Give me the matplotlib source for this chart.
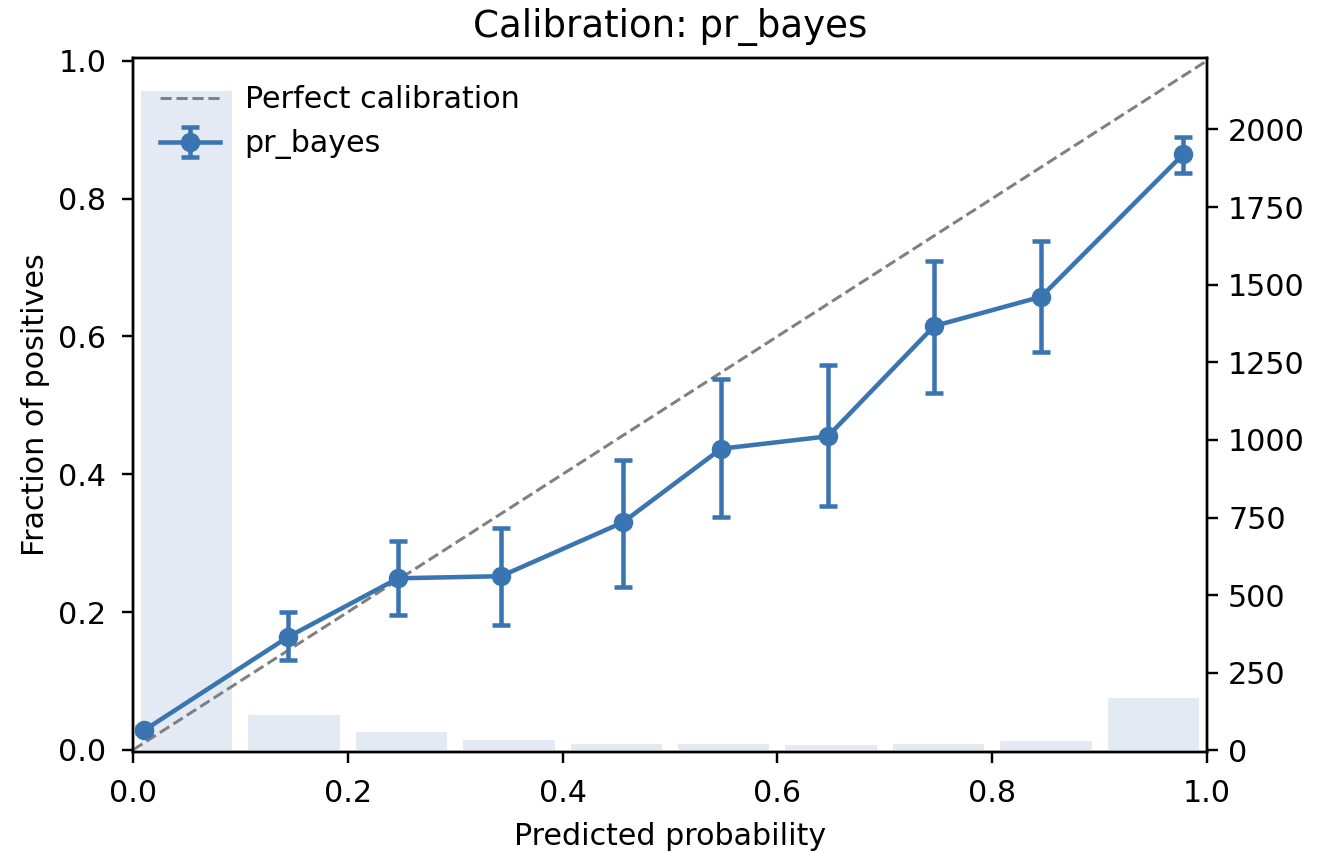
import matplotlib
matplotlib.use("Agg")
import matplotlib.pyplot as plt

# calibration curve for pr_bayes

prob_pred = [0.0105, 0.1445, 0.2468, 0.3425, 0.456, 0.5476, 0.647, 0.746, 0.8456, 0.978]
prob_true = [0.0286, 0.164, 0.249, 0.252, 0.330, 0.437, 0.455, 0.615, 0.6575, 0.8644]
err_low = [0.024, 0.130, 0.196, 0.181, 0.237, 0.338, 0.354, 0.5185, 0.5773, 0.837]
err_high = [0.033, 0.200, 0.303, 0.3225, 0.421, 0.538, 0.5585, 0.710, 0.7377, 0.8899]

bin_centers = [0.05, 0.15, 0.25, 0.35, 0.45, 0.55, 0.65, 0.75, 0.85, 0.95]
bin_counts = [2124, 113, 59, 33, 20, 20, 16, 20, 29, 169]

azul = "#3a75b1"
s = 2.17

yerr = [[t - lo for t, lo in zip(prob_true, err_low)],
        [hi - t for t, hi in zip(prob_true, err_high)]]

fig = plt.figure(figsize=(13.3, 8.52), dpi=100)
ax = fig.add_axes([0.1, 0.1174, 0.8075, 0.8146])
ax2 = ax.twinx()

# histograma de predicciones detras
ax2.bar(bin_centers, bin_counts, width=0.085, color="#e3eaf3", zorder=1)
ax2.set_ylim(-5, max(bin_counts) * 1.05)
ax2.tick_params(labelsize=10 * s, width=0.8 * s, length=3.5 * s, pad=3.5 * s)

ax.set_zorder(ax2.get_zorder() + 1)
ax.patch.set_visible(False)

ax.plot([0, 1], [0, 1], linestyle="--", color="gray", linewidth=1.0 * s,
        label="Perfect calibration")
ax.errorbar(prob_pred, prob_true, yerr=yerr, fmt="-o", color=azul,
            linewidth=1.5 * s, markersize=6 * s, capsize=3 * s,
            elinewidth=1.5 * s, capthick=1.5 * s, label="pr_bayes")

ax.set_xlim(0, 1)
ax.set_ylim(-0.003, 1.004)
ax.set_xlabel("Predicted probability", fontsize=10 * s, labelpad=9.8)
ax.set_ylabel("Fraction of positives", fontsize=10 * s, labelpad=6.2)
ax.set_title("Calibration: pr_bayes", fontsize=12.3 * s, pad=7 * s)
ax.tick_params(labelsize=10 * s, width=0.8 * s, length=3.5 * s)
ax.tick_params(axis="x", pad=12)
ax.tick_params(axis="y", pad=11.5)
for sp in list(ax.spines.values()) + list(ax2.spines.values()):
    sp.set_linewidth(0.8 * s)

ax.legend(loc="upper left", frameon=False, fontsize=10 * s)

fig.savefig("out.png", dpi=100)
